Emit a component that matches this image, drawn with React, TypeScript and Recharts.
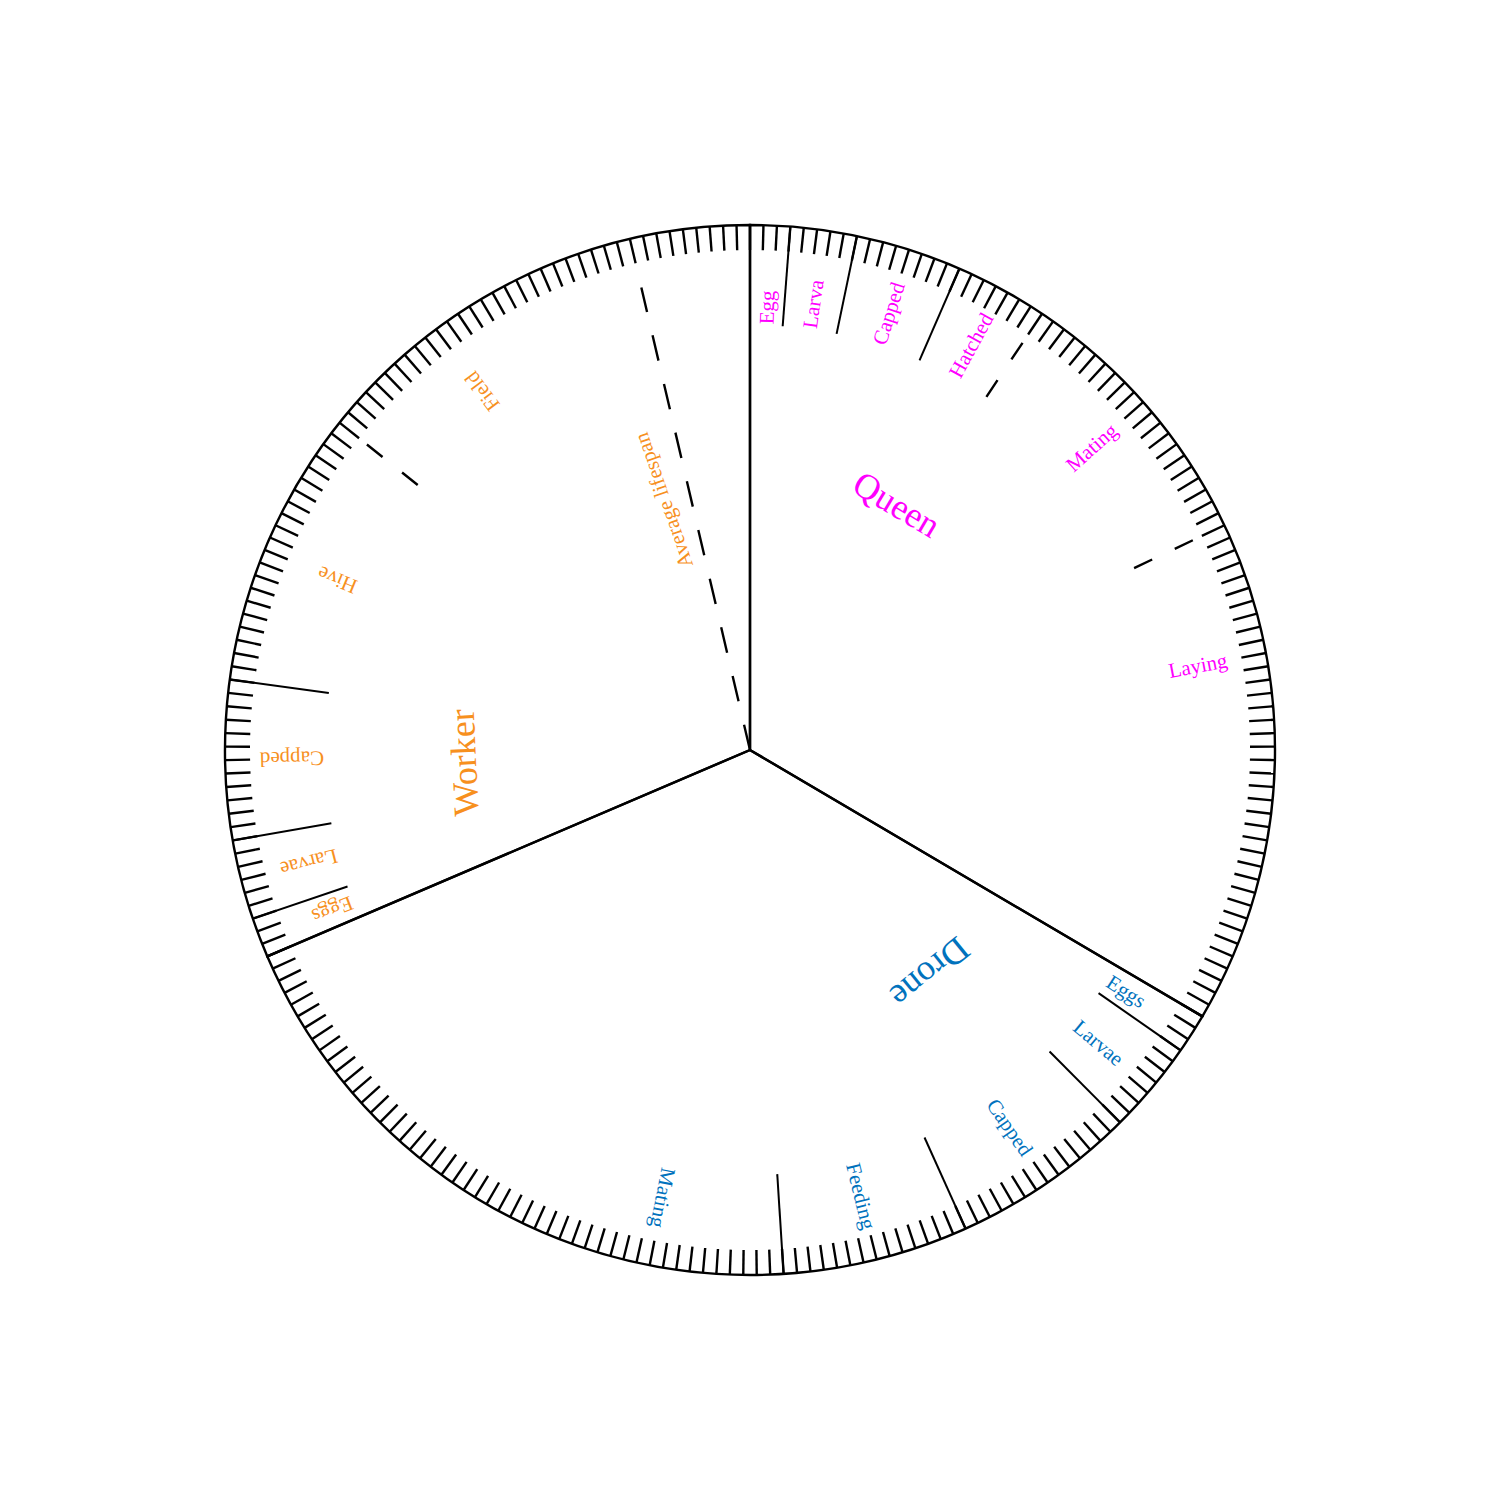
import React from 'react';
import { PieChart, Pie } from 'recharts';

// Bee life cycle clock: one tick per day, castes laid end to end round the circle.
const castes = ['Queen', 'Drone', 'Worker'];

const queenStages = ['Egg', 'Larva', 'Capped', 'Hatched', 'Mating', 'Laying'];
const queenDays = [3, 5, 8, 7, 21, 38];

const droneStages = ['Eggs', 'Larvae', 'Capped', 'Feeding', 'Mating'];
const droneDays = [3, 7, 14, 14, 48];

const workerStages = ['Eggs', 'Larvae', 'Capped', 'Hive', 'Field'];
const workerDays = [3, 6, 12, 21, 35];

// days after the worker caste starts
const workerAverageLifespan = 68;

// stage ends drawn as dashed marks
const dashedEnds: Record<string, string[]> = {
  Queen: ['Hatched', 'Mating'],
  Drone: [],
  Worker: ['Hive'],
};

const casteColors = ['#ff00ff', '#0072bd', '#f7901e'];
const casteLabelDay = [21, 14, 14];
const FONT = "'Liberation Serif', 'DejaVu Serif', serif";

const groups = [
  { names: queenStages, days: queenDays },
  { names: droneStages, days: droneDays },
  { names: workerStages, days: workerDays },
];

const casteData = castes.map((name, i) => ({
  name,
  idx: i,
  value: groups[i].days.reduce((a, b) => a + b, 0),
}));

const stageData = groups.flatMap((g, gi) =>
  g.names.map((name, si) => ({
    name,
    key: `${castes[gi]}-${name}`,
    caste: gi,
    value: g.days[si],
    last: si === g.names.length - 1,
    dashed: dashedEnds[castes[gi]].includes(name),
  }))
);

const totalDays = casteData.reduce((a, c) => a + c.value, 0);
const dayData = Array.from({ length: totalDays }, (_, i) => ({ name: `day${i}`, value: 1 }));

const RAD = Math.PI / 180;
const polar = (cx: number, cy: number, r: number, angle: number) => ({
  x: cx + r * Math.cos(-angle * RAD),
  y: cy + r * Math.sin(-angle * RAD),
});

const renderTick = (p: any) => {
  const a = polar(p.cx, p.cy, p.innerRadius, p.startAngle);
  const b = polar(p.cx, p.cy, p.outerRadius, p.startAngle);
  return <line x1={a.x} y1={a.y} x2={b.x} y2={b.y} stroke="#000" strokeWidth={2.4} />;
};

const renderStage = (p: any) => {
  const d = p.payload ?? p;
  const { cx, cy, innerRadius, outerRadius, startAngle, endAngle } = p;
  const perDay = (endAngle - startAngle) / d.value;
  const labelAngle = startAngle + perDay * Math.min(d.value / 2, 10);
  const t = polar(cx, cy, innerRadius + 1, labelAngle);
  const e1 = polar(cx, cy, innerRadius, endAngle);
  const e2 = polar(cx, cy, d.dashed ? outerRadius - 25 : outerRadius, endAngle);
  return (
    <g>
      {!d.last && (
        <line
          x1={e1.x}
          y1={e1.y}
          x2={e2.x}
          y2={e2.y}
          stroke="#000"
          strokeWidth={d.dashed ? 2.4 : 2}
          strokeDasharray={d.dashed ? '20 25' : undefined}
        />
      )}
      <text
        x={t.x}
        y={t.y}
        transform={`rotate(${-labelAngle}, ${t.x}, ${t.y})`}
        textAnchor="start"
        dominantBaseline="central"
        fill={casteColors[d.caste]}
        fontSize={21}
        fontFamily={FONT}
      >
        {d.name}
      </text>
    </g>
  );
};

const renderCaste = (p: any) => {
  const d = p.payload ?? p;
  const { cx, cy, outerRadius, startAngle, endAngle } = p;
  const perDay = (endAngle - startAngle) / d.value;
  const la = startAngle + perDay * casteLabelDay[d.idx];
  const t = polar(cx, cy, outerRadius * 0.545, la);
  let extra = null;
  if (d.name === 'Worker') {
    const aa = startAngle + perDay * workerAverageLifespan;
    const end = polar(cx, cy, outerRadius - 50, aa);
    const ta = startAngle + perDay * (workerAverageLifespan - 4);
    const tp = polar(cx, cy, outerRadius * 0.503, ta);
    extra = (
      <g>
        <line x1={cx} y1={cy} x2={end.x} y2={end.y} stroke="#000" strokeWidth={2.4} strokeDasharray="26 24" />
        <text
          x={tp.x}
          y={tp.y}
          transform={`rotate(${-ta}, ${tp.x}, ${tp.y})`}
          textAnchor="middle"
          dominantBaseline="central"
          fill={casteColors[d.idx]}
          fontSize={21}
          fontFamily={FONT}
        >
          Average lifespan
        </text>
      </g>
    );
  }
  return (
    <g>
      {extra}
      <text
        x={t.x}
        y={t.y}
        transform={`rotate(${90 - la}, ${t.x}, ${t.y})`}
        textAnchor="middle"
        dominantBaseline="central"
        fill={casteColors[d.idx]}
        fontSize={36}
        fontFamily={FONT}
      >
        {d.name}
      </text>
    </g>
  );
};

export default function App() {
  return (
    <div style={{ position: 'absolute', left: 0, top: 0, background: '#fff' }}>
      <PieChart width={1500} height={1500} margin={{ top: 0, right: 0, bottom: 0, left: 0 }}>
        <Pie
          data={casteData}
          dataKey="value"
          nameKey="name"
          cx={750}
          cy={750}
          innerRadius={0}
          outerRadius={525}
          startAngle={90}
          endAngle={-270}
          fill="none"
          stroke="#000"
          strokeWidth={2.4}
          label={renderCaste}
          labelLine={false}
          isAnimationActive={false}
        />
        <Pie
          data={dayData}
          dataKey="value"
          nameKey="name"
          cx={750}
          cy={750}
          innerRadius={500}
          outerRadius={525}
          startAngle={90}
          endAngle={-270}
          fill="none"
          stroke="none"
          label={renderTick}
          labelLine={false}
          isAnimationActive={false}
        />
        <Pie
          data={stageData}
          dataKey="value"
          nameKey="key"
          cx={750}
          cy={750}
          innerRadius={425}
          outerRadius={525}
          startAngle={90}
          endAngle={-270}
          fill="none"
          stroke="none"
          label={renderStage}
          labelLine={false}
          isAnimationActive={false}
        />
      </PieChart>
    </div>
  );
}
